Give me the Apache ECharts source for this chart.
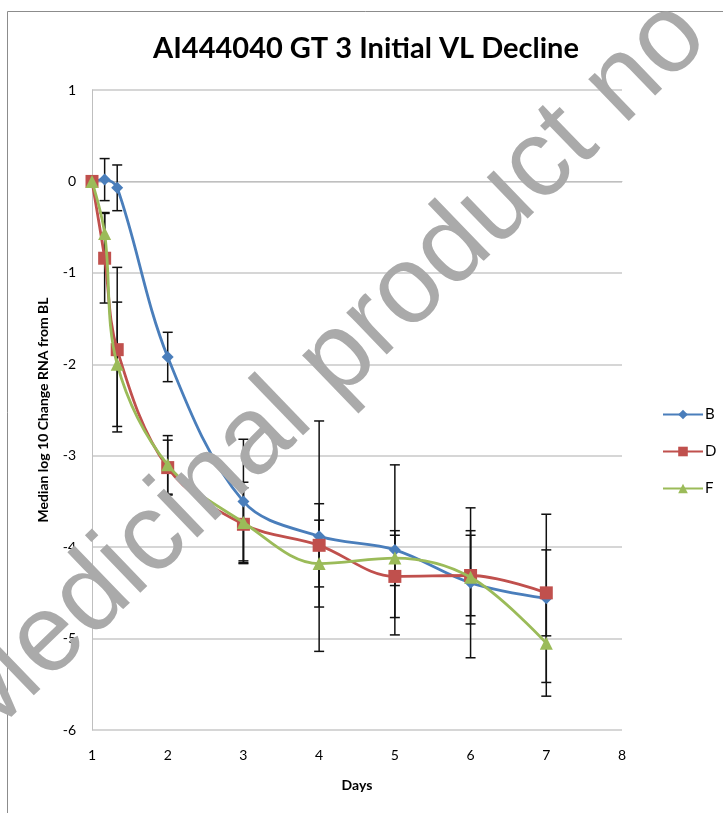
<!DOCTYPE html>
<html>
<head>
<meta charset="utf-8">
<script src="https://cdn.jsdelivr.net/npm/echarts@6/dist/echarts.min.js"></script>
<style>html,body{margin:0;padding:0;background:#fff}#c{width:723px;height:813px}</style>
</head>
<body>
<div id="c"></div>
<script>
const days = [1, 1.167, 1.333, 2, 3, 4, 5, 6, 7];
const seriesNames = ['B', 'D', 'F'];
const valuesB = [0, 0.02, -0.07, -1.92, -3.5, -3.88, -4.03, -4.39, -4.56];
const valuesD = [0, -0.84, -1.84, -3.13, -3.75, -3.98, -4.32, -4.31, -4.5];
const valuesF = [0, -0.57, -2.0, -3.1, -3.73, -4.18, -4.12, -4.33, -5.05];
const errB = [0, 0.23, 0.25, 0.27, 0.68, 1.26, 0.93, 0.82, 0.92];
const errD = [0, 0.49, 0.9, 0.3, 0.4, 0.455, 0.45, 0.44, 0.47];
const errF = [0, 0.23, 0.68, 0.32, 0.44, 0.475, 0.3, 0.51, 0.58];
const xTicks = [1, 2, 3, 4, 5, 6, 7, 8];
const yTicks = [-6, -5, -4, -3, -2, -1, 0, 1];

const colors = ['#4A7EBB', '#C0504D', '#9BBB59'];
const symbols = ['diamond', 'rect', 'triangle'];
const symbolSizes = [12, 13, 13];
const allVals = [valuesB, valuesD, valuesF];
const allErr = [errB, errD, errF];
const FONT = 'Lato';

const chart = echarts.init(document.getElementById('c'));

const series = [];
seriesNames.forEach((name, i) => {
  const errData = days.map((d, j) => [d, allVals[i][j] - allErr[i][j], allVals[i][j] + allErr[i][j]]).filter((r, j) => allErr[i][j] > 0);
  series.push({
    type: 'custom',
    name: name + '_err',
    silent: true,
    z: 1,
    data: errData,
    encode: { x: 0, y: [1, 2] },
    renderItem: function (params, api) {
      const x = api.value(0);
      const lo = api.coord([x, api.value(1)]);
      const hi = api.coord([x, api.value(2)]);
      const w = 5;
      const st = { stroke: '#111', lineWidth: 1.5 };
      return {
        type: 'group',
        children: [
          { type: 'line', shape: { x1: lo[0], y1: lo[1], x2: hi[0], y2: hi[1] }, style: st },
          { type: 'line', shape: { x1: lo[0] - w, y1: lo[1], x2: lo[0] + w, y2: lo[1] }, style: st },
          { type: 'line', shape: { x1: hi[0] - w, y1: hi[1], x2: hi[0] + w, y2: hi[1] }, style: st }
        ]
      };
    }
  });
});
seriesNames.forEach((name, i) => {
  series.push({
    type: 'line',
    name: name,
    z: 3 + i,
    smooth: 0.35,
    data: days.map((d, j) => [d, allVals[i][j]]),
    symbol: symbols[i],
    symbolSize: symbolSizes[i],
    showAllSymbol: true,
    lineStyle: { color: colors[i], width: 2.8 },
    itemStyle: { color: colors[i] },
    emphasis: { disabled: true }
  });
});

chart.setOption({
  animation: false,
  backgroundColor: '#fff',
  title: {
    text: 'AI444040 GT 3 Initial VL Decline',
    left: 361, top: 29, textAlign: 'center',
    textStyle: { fontFamily: FONT, fontWeight: 'bold', fontSize: 29, color: '#000' }
  },
  legend: {
    orient: 'vertical',
    left: 657, top: 402,
    itemWidth: 40, itemHeight: 12, itemGap: 22,
    data: seriesNames,
    textStyle: { fontFamily: FONT, fontSize: 15, color: '#000', padding: [0, 0, 0, -3] }
  },
  grid: { left: 92, right: 101, top: 90, bottom: 83, containLabel: false },
  xAxis: {
    type: 'value', min: 1, max: 8, interval: 1,
    name: 'Days', nameLocation: 'middle', nameGap: 48,
    nameTextStyle: { fontFamily: FONT, fontWeight: 'bold', fontSize: 14, color: '#000' },
    axisLine: { show: true, lineStyle: { color: '#bfbfbf', width: 1 } },
    axisTick: { show: false },
    splitLine: { show: false },
    axisLabel: { fontFamily: FONT, fontSize: 14, color: '#000', margin: 18,
      formatter: v => xTicks.includes(v) ? String(v) : '' }
  },
  yAxis: {
    type: 'value', min: -6, max: 1, interval: 1,
    name: 'Median log 10 Change RNA from BL', nameLocation: 'middle', nameGap: 42,
    nameTextStyle: { fontFamily: FONT, fontWeight: 'bold', fontSize: 14, color: '#000' },
    axisLine: { show: true, lineStyle: { color: '#bfbfbf', width: 1 } },
    axisTick: { show: false },
    splitLine: { show: true, lineStyle: { color: '#c8c8c8', width: 1.5 } },
    axisLabel: { fontFamily: FONT, fontSize: 14, color: '#000', margin: 16,
      formatter: v => yTicks.includes(v) ? String(v) : '' }
  },
  graphic: [
    { type: 'rect', z: -10, shape: { x: 7.5, y: 11.5, width: 900, height: 900 },
      style: { fill: 'none', stroke: '#8c8c8c', lineWidth: 1 } },
    { type: 'text', z: 100, x: 325, y: 372, rotation: 44 * Math.PI / 180,
      style: { text: 'Medicinal product no', fontFamily: 'Liberation Sans', fontSize: 110,
        fill: '#aaaaaa', textAlign: 'center', textVerticalAlign: 'middle' } }
  ],
  series: series
});
</script>
</body>
</html>
